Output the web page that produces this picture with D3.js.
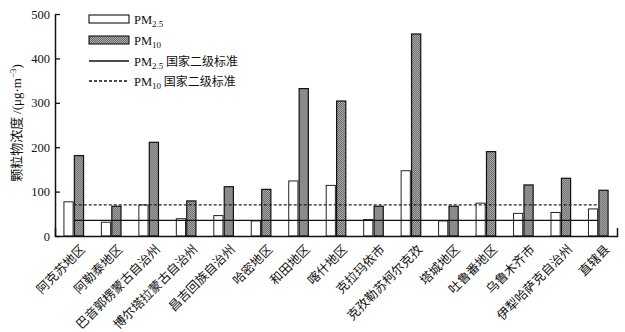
<!DOCTYPE html>
<html>
<head>
<meta charset="utf-8">
<script src="https://cdn.jsdelivr.net/npm/d3@7"></script>
<style>
  body { margin: 0; background: #fff; }
  text { font-family: "Liberation Serif", "Noto Sans CJK SC", serif; fill: #111; }
</style>
</head>
<body>
<svg id="chart" width="625" height="332"></svg>
<script>
const regions = ["阿克苏地区", "阿勒泰地区", "巴音郭楞蒙古自治州", "博尔塔拉蒙古自治州", "昌吉回族自治州",
  "哈密地区", "和田地区", "喀什地区", "克拉玛依市", "克孜勒苏柯尔克孜", "塔城地区", "吐鲁番地区",
  "乌鲁木齐市", "伊犁哈萨克自治州", "直辖县"];
const pm25 = [77, 31, 70, 39, 46, 34, 124, 114, 37, 147, 34, 74, 51, 53, 61];
const pm10 = [181, 67, 211, 79, 111, 105, 332, 304, 67, 455, 67, 190, 115, 130, 103];
const pm25Std = 35;
const pm10Std = 70;
const yTicks = [0, 100, 200, 300, 400, 500];

const svg = d3.select("#chart");
const margin = {top: 14, left: 55, right: 8, bottom: 96};
const width = 625, height = 332;

const x = d3.scaleBand()
  .domain(regions)
  .range([margin.left, width - margin.right]);

const sub = d3.scaleBand()
  .domain(["pm25", "pm10"])
  .range([-9.8, 9.8])
  .paddingInner(0.12);

const y = d3.scaleLinear()
  .domain([0, 500])
  .range([height - margin.bottom, margin.top]);

// hatch pattern for PM10 bars
const defs = svg.append("defs");
const pat = defs.append("pattern")
  .attr("id", "hatch")
  .attr("width", 2).attr("height", 2)
  .attr("patternUnits", "userSpaceOnUse");
pat.append("rect").attr("width", 2).attr("height", 2).attr("fill", "#b0b0b0");
pat.append("rect").attr("width", 1).attr("height", 1).attr("fill", "#666");
pat.append("rect").attr("x", 1).attr("y", 1).attr("width", 1).attr("height", 1).attr("fill", "#666");

const cx = d => x(d) + x.bandwidth() / 2;

// bars
const groups = svg.append("g").selectAll("g")
  .data(regions)
  .join("g")
  .attr("transform", d => `translate(${cx(d)},0)`);

groups.append("rect")
  .attr("x", sub("pm25"))
  .attr("y", (d, i) => y(pm25[i]))
  .attr("width", sub.bandwidth())
  .attr("height", (d, i) => y(0) - y(pm25[i]))
  .attr("fill", "#fff")
  .attr("stroke", "#222")
  .attr("stroke-width", 1);

groups.append("rect")
  .attr("x", sub("pm10"))
  .attr("y", (d, i) => y(pm10[i]))
  .attr("width", sub.bandwidth())
  .attr("height", (d, i) => y(0) - y(pm10[i]))
  .attr("fill", "url(#hatch)")
  .attr("stroke", "#111")
  .attr("stroke-width", 1.2);

// standard lines
const stdLine = v => d3.line()
  .x(d => cx(d))
  .y(() => y(v));

svg.append("path")
  .attr("d", stdLine(pm25Std)(regions))
  .attr("fill", "none")
  .attr("stroke", "#111")
  .attr("stroke-width", 1.3);

svg.append("path")
  .attr("d", stdLine(pm10Std)(regions))
  .attr("fill", "none")
  .attr("stroke", "#222")
  .attr("stroke-width", 1.3)
  .attr("stroke-dasharray", "3,2");

// axes
const yAxis = svg.append("g")
  .attr("transform", `translate(${margin.left},0)`)
  .call(d3.axisLeft(y).tickValues(yTicks).tickSizeInner(-5).tickSizeOuter(0).tickPadding(5));
yAxis.selectAll("text").style("font-size", "12.5px");
yAxis.select(".domain").attr("stroke", "#111").attr("stroke-width", 1.5);
yAxis.selectAll(".tick line").attr("stroke", "#111").attr("stroke-width", 1.3);

const xAxis = svg.append("g")
  .attr("transform", `translate(0,${y(0)})`)
  .call(d3.axisBottom(x).tickSizeInner(0).tickSizeOuter(-8).tickFormat(""));
xAxis.select(".domain").attr("stroke", "#111").attr("stroke-width", 1.5);

// category labels
svg.append("g").selectAll("text")
  .data(regions)
  .join("text")
  .attr("transform", d => `translate(${cx(d) + 6},${y(0) + 8}) rotate(-45)`)
  .attr("text-anchor", "end")
  .attr("dy", "0.7em")
  .style("font-family", "'Noto Sans CJK SC'")
  .style("font-size", "12.5px")
  .text(d => d);

// y label
const yl = svg.append("text")
  .attr("transform", `translate(21,${(y(0) + y(500)) / 2 - 2}) rotate(-90)`)
  .attr("text-anchor", "middle")
  .style("font-size", "13px");
yl.append("tspan").style("font-family", "'Noto Sans CJK SC'").text("颗粒物浓度 ");
yl.append("tspan").text("/(μg·m");
yl.append("tspan").attr("dy", -5).style("font-size", "9px").text("−3");
yl.append("tspan").attr("dy", 5).text(")");

// legend
const legend = svg.append("g").attr("transform", "translate(89,0)");
const legItems = [
  {type: "box", fill: "#fff", y: 19, sub: "2.5", tail: ""},
  {type: "box", fill: "url(#hatch)", y: 40, sub: "10", tail: ""},
  {type: "line", dash: null, y: 61, sub: "2.5", tail: " 国家二级标准"},
  {type: "line", dash: "3,2", y: 81, sub: "10", tail: " 国家二级标准"}
];
legItems.forEach(it => {
  if (it.type === "box") {
    legend.append("rect")
      .attr("x", 0).attr("y", it.y - 4)
      .attr("width", 40).attr("height", 8)
      .attr("fill", it.fill).attr("stroke", "#111").attr("stroke-width", 1.1);
  } else {
    legend.append("line")
      .attr("x1", 0).attr("x2", 40).attr("y1", it.y).attr("y2", it.y)
      .attr("stroke", "#111").attr("stroke-width", 1.3)
      .attr("stroke-dasharray", it.dash);
  }
  const t = legend.append("text")
    .attr("x", 45).attr("y", it.y + 4.5)
    .style("font-size", "12.5px");
  t.append("tspan").text("PM");
  t.append("tspan").attr("dy", 3).style("font-size", "9px").text(it.sub);
  if (it.tail) {
    t.append("tspan").attr("dy", -3).style("font-family", "'Noto Sans CJK SC'").style("font-size", "12px").text(it.tail);
  }
});
</script>
</body>
</html>
